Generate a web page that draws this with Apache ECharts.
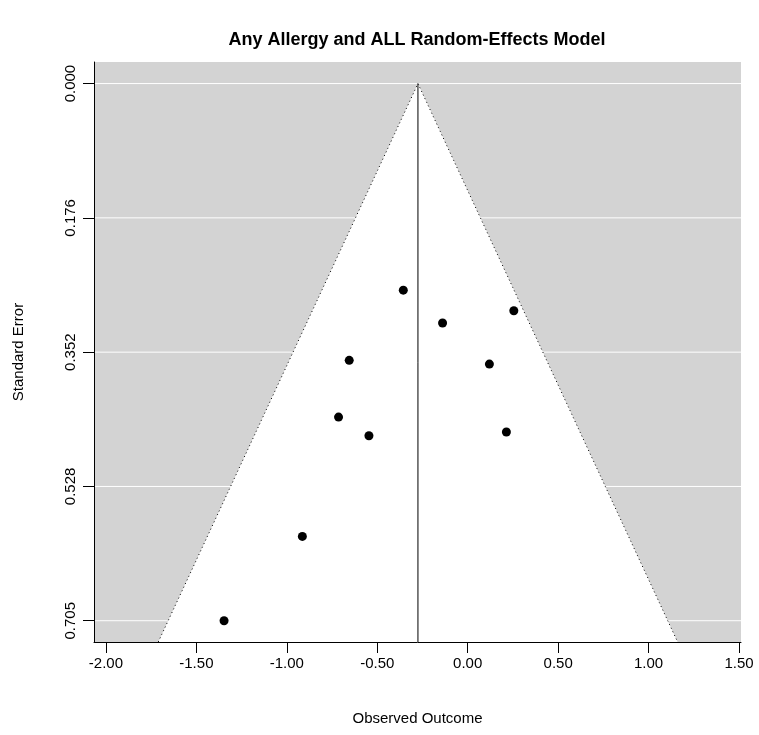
<!DOCTYPE html>
<html>
<head>
<meta charset="utf-8">
<script src="https://cdn.jsdelivr.net/npm/echarts@6/dist/echarts.min.js"></script>
<style>html,body{margin:0;padding:0;background:#fff;}#chart{width:759px;height:735px;}</style>
</head>
<body>
<div id="chart"></div>
<script>
// Observed outcomes (yi) and standard errors (sei) of the studies
const observedOutcome = [-0.356, 0.255, -0.139, -0.655, 0.120, -0.714, -0.546, 0.214, -0.914, -1.347];
const standardError   = [0.271, 0.298, 0.314, 0.363, 0.368, 0.4375, 0.462, 0.457, 0.594, 0.7046];
const pooledEstimate = -0.275;
const zCrit = 1.96;
const xTickValues = [-2.0, -1.5, -1.0, -0.5, 0.0, 0.5, 1.0, 1.5];
const yTickValues = [0, 0.17615, 0.3523, 0.52845, 0.7046];
const yTickLabels = ['0.000', '0.176', '0.352', '0.528', '0.705'];
const xRange = [-2.066, 1.511];
const yRange = [-0.0283, 0.7325];

const font = 'Liberation Sans, Arial, Helvetica, sans-serif';
const seBottom = yRange[1];
const funnelPts = [
  [pooledEstimate - zCrit * seBottom, seBottom],
  [pooledEstimate, 0],
  [pooledEstimate + zCrit * seBottom, seBottom]
];

const chart = echarts.init(document.getElementById('chart'), null, {renderer: 'canvas'});
const option = {
  animation: false,
  backgroundColor: '#ffffff',
  title: {
    text: 'Any Allergy and ALL Random-Effects Model',
    left: 417, top: 31, textAlign: 'center', padding: 0,
    textStyle: {fontFamily: font, fontSize: 18, fontWeight: 'bold', color: '#000'}
  },
  grid: {left: 94, top: 62, right: 18, bottom: 93, containLabel: false},
  xAxis: {
    type: 'value', min: xRange[0], max: xRange[1], z: 10,
    name: 'Observed Outcome', nameLocation: 'middle', nameGap: 69,
    nameTextStyle: {fontFamily: font, fontSize: 15, color: '#000'},
    axisLine: {show: true, onZero: false, lineStyle: {color: '#000', width: 1}},
    axisTick: {show: true, length: 11, customValues: xTickValues, lineStyle: {color: '#000'}},
    axisLabel: {
      customValues: xTickValues, margin: 14,
      fontFamily: font, fontSize: 15, color: '#000',
      formatter: v => v.toFixed(2)
    },
    splitLine: {show: false}
  },
  yAxis: {
    type: 'value', inverse: true, min: yRange[0], max: yRange[1], z: 10,
    name: 'Standard Error', nameLocation: 'middle', nameGap: 68, nameRotate: 90,
    nameTextStyle: {fontFamily: font, fontSize: 15, color: '#000'},
    axisLine: {show: true, onZero: false, lineStyle: {color: '#000', width: 1}},
    axisTick: {show: true, length: 11, customValues: yTickValues, lineStyle: {color: '#000'}},
    axisLabel: {
      customValues: yTickValues, margin: 16, rotate: 90,
      fontFamily: font, fontSize: 15, color: '#000',
      formatter: v => {
        const i = yTickValues.findIndex(t => Math.abs(t - v) < 1e-6);
        return i >= 0 ? yTickLabels[i] : '';
      }
    },
    splitLine: {show: false}
  },
  series: [
    {
      type: 'custom', z: 1, silent: true,
      data: [[pooledEstimate, 0]],
      renderItem: function (params, api) {
        const cs = params.coordSys;
        const children = [{
          type: 'rect',
          shape: {x: cs.x, y: cs.y, width: cs.width, height: cs.height},
          style: {fill: '#d3d3d3'}
        }];
        yTickValues.forEach(t => {
          const p1 = api.coord([xRange[0], t]);
          const p2 = api.coord([xRange[1], t]);
          children.push({
            type: 'line',
            shape: {x1: p1[0], y1: p1[1], x2: p2[0], y2: p2[1]},
            style: {stroke: '#ffffff', lineWidth: 1}
          });
        });
        children.push({
          type: 'polygon',
          shape: {points: funnelPts.map(p => api.coord(p))},
          style: {fill: '#ffffff'}
        });
        return {type: 'group', children: children};
      }
    },
    {
      type: 'line', z: 3, silent: true, symbol: 'none',
      data: funnelPts,
      lineStyle: {color: '#000', width: 1, type: [1, 3]}
    },
    {
      type: 'line', z: 3, silent: true, symbol: 'none',
      data: [[pooledEstimate, 0], [pooledEstimate, seBottom]],
      lineStyle: {color: '#000', width: 1}
    },
    {
      type: 'scatter', z: 4, silent: true,
      symbol: 'circle', symbolSize: 9,
      itemStyle: {color: '#000', opacity: 1},
      data: observedOutcome.map((x, i) => [x, standardError[i]])
    }
  ]
};
chart.setOption(option);
</script>
</body>
</html>
